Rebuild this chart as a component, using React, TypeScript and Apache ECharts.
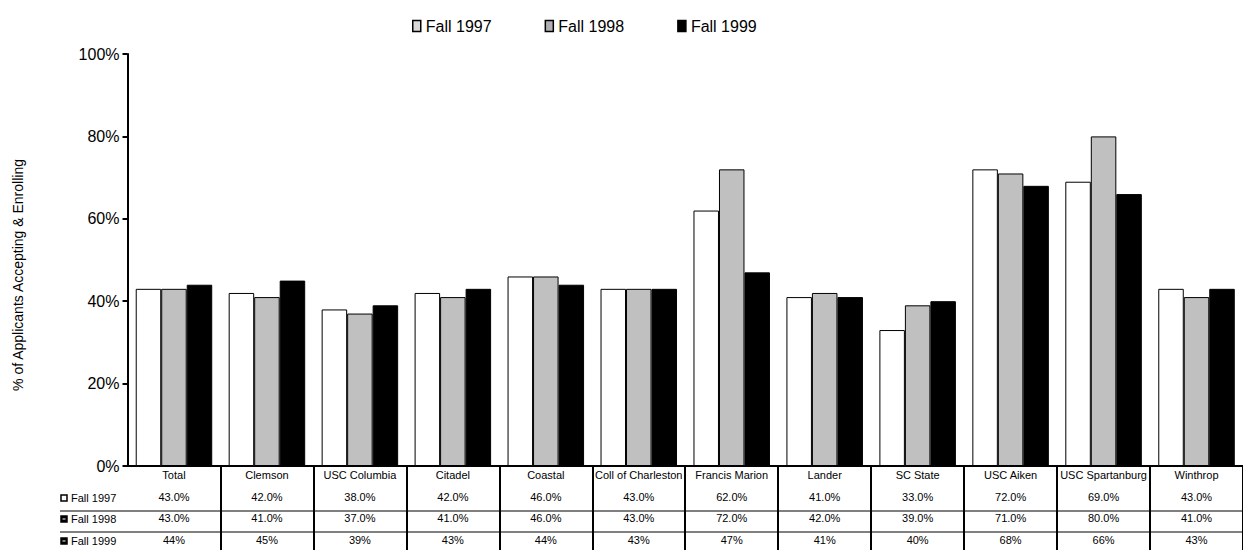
import React, { useEffect, useRef } from "react";
import * as echarts from "echarts";

const categories = [
  "Total", "Clemson", "USC Columbia", "Citadel", "Coastal", "Coll of Charleston",
  "Francis Marion", "Lander", "SC State", "USC Aiken", "USC Spartanburg", "Winthrop",
];
const seriesNames = ["Fall 1997", "Fall 1998", "Fall 1999"];
const fall1997 = [43, 42, 38, 42, 46, 43, 62, 41, 33, 72, 69, 43];
const fall1998 = [43, 41, 37, 41, 46, 43, 72, 42, 39, 71, 80, 41];
const fall1999 = [44, 45, 39, 43, 44, 43, 47, 41, 40, 68, 66, 43];
const row1997 = ["43.0%", "42.0%", "38.0%", "42.0%", "46.0%", "43.0%", "62.0%", "41.0%", "33.0%", "72.0%", "69.0%", "43.0%"];
const row1998 = ["43.0%", "41.0%", "37.0%", "41.0%", "46.0%", "43.0%", "72.0%", "42.0%", "39.0%", "71.0%", "80.0%", "41.0%"];
const row1999 = ["44%", "45%", "39%", "43%", "44%", "43%", "47%", "41%", "40%", "68%", "66%", "43%"];
const yTicks = [0, 20, 40, 60, 80, 100];

const FONT = "'Liberation Sans', Arial, sans-serif";

export default function App() {
  const ref = useRef<HTMLDivElement>(null);
  useEffect(() => {
    if (!ref.current) return;
    const chart = echarts.init(ref.current, null, { renderer: "svg" });
    const rows = [row1997, row1998, row1999];
    const rowOffsets = [25, 46, 68];
    const tableAxes = rows.map((row, k) => ({
      type: "category",
      gridIndex: 0,
      data: categories,
      position: "bottom",
      offset: rowOffsets[k],
      axisLine: { show: false },
      axisTick: { show: false },
      axisLabel: {
        interval: 0,
        margin: 0,
        fontSize: 11,
        fontFamily: FONT,
        color: "#000",
        formatter: (_v: string, i: number) => row[i],
      },
    }));
    const iconStyles = [
      { fill: "#fff", stroke: "#000" },
      { fill: "#000", stroke: "#000" },
      { fill: "#000", stroke: "#000" },
    ];
    const rowCenters = [498, 519, 541];
    const graphic: any[] = [
      {
        type: "text",
        x: 18,
        y: 275,
        rotation: Math.PI / 2,
        style: {
          text: "% of Applicants Accepting & Enrolling",
          fontSize: 14,
          fontFamily: FONT,
          fill: "#000",
          textAlign: "center",
          textVerticalAlign: "middle",
        },
      },
      { type: "line", shape: { x1: 60, y1: 511, x2: 1243, y2: 511 }, style: { stroke: "#000", lineWidth: 1 } },
      { type: "line", shape: { x1: 60, y1: 532, x2: 1243, y2: 532 }, style: { stroke: "#000", lineWidth: 1 } },
    ];
    seriesNames.forEach((n, k) => {
      graphic.push({
        type: "rect",
        shape: { x: 61, y: rowCenters[k] - 3, width: 6, height: 6 },
        style: { fill: iconStyles[k].fill, stroke: iconStyles[k].stroke, lineWidth: 1.5 },
      });
      if (k > 0) {
        graphic.push({
          type: "rect",
          shape: { x: 62.5, y: rowCenters[k] - 0.5, width: 3, height: 1 },
          style: { fill: "#fff" },
        });
      }
      graphic.push({
        type: "text",
        x: 71,
        y: rowCenters[k],
        style: {
          text: n,
          fontSize: 11,
          fontFamily: FONT,
          fill: "#000",
          textAlign: "left",
          textVerticalAlign: "middle",
        },
      });
    });

    chart.setOption({
      animation: false,
      backgroundColor: "#fff",
      legend: {
        left: 407,
        top: 13,
        icon: "rect",
        itemWidth: 8,
        itemHeight: 11,
        itemGap: 53,
        textStyle: { fontSize: 16, fontFamily: FONT, color: "#000" },
        data: [
          { name: "Fall 1997", itemStyle: { color: "#d8d8d8", borderColor: "#000", borderWidth: 1.5 } },
          { name: "Fall 1998", itemStyle: { color: "#b0b0b0", borderColor: "#000", borderWidth: 1.5 } },
          { name: "Fall 1999", itemStyle: { color: "#000", borderColor: "#000", borderWidth: 1.5 } },
        ],
      },
      grid: { left: 127.5, top: 54, bottom: 84, right: -15, containLabel: false },
      xAxis: [
        {
          type: "category",
          data: categories,
          position: "bottom",
          axisLine: { lineStyle: { color: "#000", width: 2 } },
          axisTick: {
            show: true,
            interval: (i: number) => i > 0,
            length: 84,
            lineStyle: { color: "#000", width: 2 },
          },
          axisLabel: { interval: 0, margin: 3, fontSize: 11, fontFamily: FONT, color: "#000" },
        },
        ...tableAxes,
      ],
      yAxis: {
        type: "value",
        min: 0,
        max: 100,
        interval: 20,
        axisLine: { show: true, lineStyle: { color: "#000", width: 2 } },
        axisTick: { show: true, length: 5, lineStyle: { color: "#000", width: 2 } },
        splitLine: { show: false },
        axisLabel: {
          fontSize: 16,
          fontFamily: FONT,
          color: "#000",
          margin: 8,
          formatter: (v: number) => (yTicks.includes(v) ? `${v}%` : ""),
        },
      },
      graphic,
      series: [
        {
          name: seriesNames[0],
          type: "bar",
          data: fall1997,
          barGap: "0%",
          barCategoryGap: "17.7%",
          itemStyle: { color: "#fff", borderColor: "#000", borderWidth: 1 },
        },
        {
          name: seriesNames[1],
          type: "bar",
          data: fall1998,
          barGap: "0%",
          barCategoryGap: "17.7%",
          itemStyle: { color: "#c0c0c0", borderColor: "#000", borderWidth: 1 },
        },
        {
          name: seriesNames[2],
          type: "bar",
          data: fall1999,
          barGap: "0%",
          barCategoryGap: "17.7%",
          itemStyle: { color: "#000", borderColor: "#000", borderWidth: 1 },
        },
      ],
    });
    return () => chart.dispose();
  }, []);
  return (
    <div
      ref={ref}
      style={{ position: "absolute", left: 0, top: 0, width: 1243, height: 550, background: "#fff" }}
    />
  );
}
